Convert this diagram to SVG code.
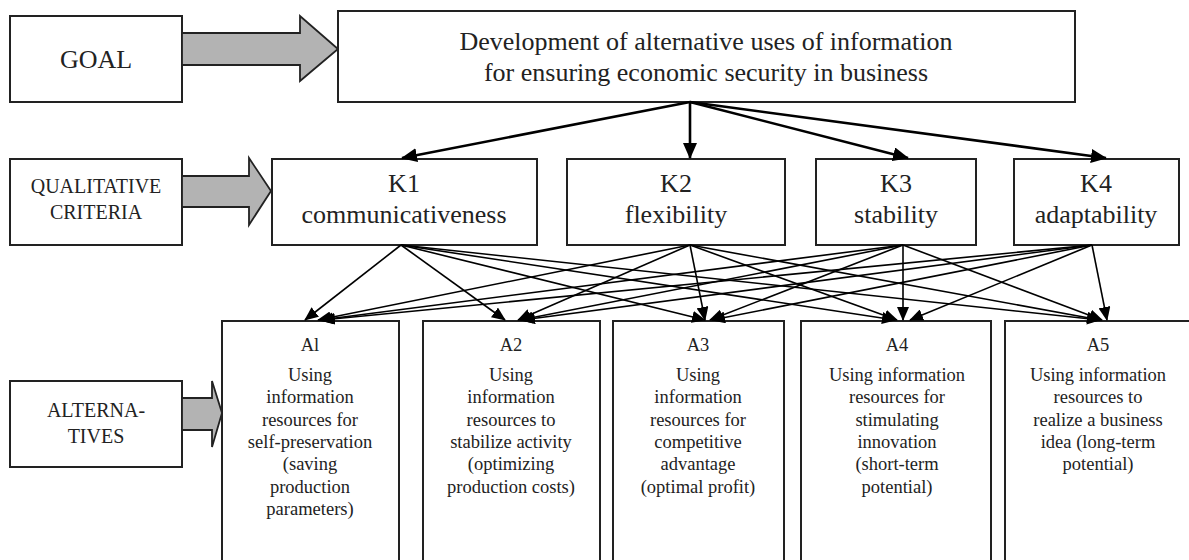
<svg xmlns="http://www.w3.org/2000/svg" width="1189" height="560" viewBox="0 0 1189 560">
<style>
.box{fill:#fff;stroke:#222;stroke-width:2}
.block{fill:#b3b3b3;stroke:#222;stroke-width:1.8;stroke-linejoin:miter}
.t{font-family:'Liberation Serif','Times New Roman',Times,'DejaVu Serif',serif;fill:#222;text-anchor:middle}
.lg{font-size:26px}
.md{font-size:20px}
.sm{font-size:18.5px}
.main{stroke:#000;stroke-width:2.6;fill:none;marker-end:url(#ah)}
.link{stroke:#000;stroke-width:1.6;fill:none;marker-end:url(#as)}
</style>
<defs>
<marker id="ah" markerUnits="userSpaceOnUse" markerWidth="16" markerHeight="14" refX="15" refY="7" orient="auto">
<path d="M0,0 L16,7 L0,14 z" fill="#000"/>
</marker>
<marker id="as" markerUnits="userSpaceOnUse" markerWidth="14" markerHeight="12" refX="13" refY="6" orient="auto">
<path d="M0,0 L14,6 L0,12 z" fill="#000"/>
</marker>
</defs>
<rect width="1189" height="560" fill="#fff"/>

<g font-family="Liberation Serif, Times New Roman, DejaVu Serif, serif">
<g id="goal">
<rect class="box" x="10" y="16" width="172" height="86"/>
<text class="t lg" x="96" y="68">GOAL</text>
</g>
<g id="goal-arrow">
<polygon class="block" points="182,33 300,33 300,16 338,49 300,81 300,65 182,65"/>
</g>
<g id="top">
<rect class="box" x="338" y="11" width="737" height="91"/>
<text class="t lg" x="706" y="50">Development of alternative uses of information</text>
<text class="t lg" x="706" y="81">for ensuring economic security in business</text>
</g>

<g id="criteria">
<rect class="box" x="10" y="159" width="172" height="86"/>
<text class="t md" x="96" y="193">QUALITATIVE</text>
<text class="t md" x="96" y="219">CRITERIA</text>
</g>
<g id="criteria-arrow">
<polygon class="block" points="182,176 249,176 249,158 271,191 249,225 249,207 182,207"/>
</g>
<g id="k1">
<rect class="box" x="272" y="159" width="265" height="86"/>
<text class="t lg" x="404" y="192">K1</text>
<text class="t lg" x="404" y="223">communicativeness</text>
</g>
<g id="k2">
<rect class="box" x="567" y="159" width="218" height="86"/>
<text class="t lg" x="676" y="192">K2</text>
<text class="t lg" x="676" y="223">flexibility</text>
</g>
<g id="k3">
<rect class="box" x="816" y="159" width="160" height="86"/>
<text class="t lg" x="896" y="192">K3</text>
<text class="t lg" x="896" y="223">stability</text>
</g>
<g id="k4">
<rect class="box" x="1014" y="159" width="165" height="86"/>
<text class="t lg" x="1096" y="192">K4</text>
<text class="t lg" x="1096" y="223">adaptability</text>
</g>

<g id="alternatives">
<rect class="box" x="10" y="381" width="172" height="86"/>
<text class="t md" x="96" y="417">ALTERNA-</text>
<text class="t md" x="96" y="443">TIVES</text>
</g>
<g id="alternatives-arrow">
<polygon class="block" points="182,398 212,398 212,381 222,413 212,447 212,430 182,430"/>
</g>

<g id="a1">
<rect class="box" x="222" y="321" width="177" height="250"/>
<text class="t sm" x="310" y="351">Al</text>
<text class="t sm" x="310" y="381">Using</text>
<text class="t sm" x="310" y="403">information</text>
<text class="t sm" x="310" y="426">resources for</text>
<text class="t sm" x="310" y="448">self-preservation</text>
<text class="t sm" x="310" y="470">(saving</text>
<text class="t sm" x="310" y="493">production</text>
<text class="t sm" x="310" y="515">parameters)</text>
</g>
<g id="a2">
<rect class="box" x="423" y="321" width="177" height="250"/>
<text class="t sm" x="511" y="351">A2</text>
<text class="t sm" x="511" y="381">Using</text>
<text class="t sm" x="511" y="403">information</text>
<text class="t sm" x="511" y="426">resources to</text>
<text class="t sm" x="511" y="448">stabilize activity</text>
<text class="t sm" x="511" y="470">(optimizing</text>
<text class="t sm" x="511" y="493">production costs)</text>
</g>
<g id="a3">
<rect class="box" x="613" y="321" width="171" height="250"/>
<text class="t sm" x="698" y="351">A3</text>
<text class="t sm" x="698" y="381">Using</text>
<text class="t sm" x="698" y="403">information</text>
<text class="t sm" x="698" y="426">resources for</text>
<text class="t sm" x="698" y="448">competitive</text>
<text class="t sm" x="698" y="470">advantage</text>
<text class="t sm" x="698" y="493">(optimal profit)</text>
</g>
<g id="a4">
<rect class="box" x="801" y="321" width="190" height="250"/>
<text class="t sm" x="897" y="351">A4</text>
<text class="t sm" x="897" y="381">Using information</text>
<text class="t sm" x="897" y="403">resources for</text>
<text class="t sm" x="897" y="426">stimulating</text>
<text class="t sm" x="897" y="448">innovation</text>
<text class="t sm" x="897" y="470">(short-term</text>
<text class="t sm" x="897" y="493">potential)</text>
</g>
<g id="a5">
<rect class="box" x="1005" y="321" width="195" height="250"/>
<text class="t sm" x="1098" y="351">A5</text>
<text class="t sm" x="1098" y="381">Using information</text>
<text class="t sm" x="1098" y="403">resources to</text>
<text class="t sm" x="1098" y="426">realize a business</text>
<text class="t sm" x="1098" y="448">idea (long-term</text>
<text class="t sm" x="1098" y="470">potential)</text>
</g>
</g>

<g id="connectors">
<line class="main" x1="690" y1="102" x2="402" y2="158"/>
<line class="main" x1="690" y1="102" x2="690" y2="158"/>
<line class="main" x1="690" y1="102" x2="908" y2="158"/>
<line class="main" x1="690" y1="102" x2="1106" y2="158"/>

<line class="link" x1="401" y1="245" x2="305" y2="320"/>
<line class="link" x1="401" y1="245" x2="505" y2="320"/>
<line class="link" x1="401" y1="245" x2="705" y2="320"/>
<line class="link" x1="401" y1="245" x2="895" y2="320"/>
<line class="link" x1="401" y1="245" x2="1100" y2="320"/>

<line class="link" x1="690" y1="245" x2="318" y2="320"/>
<line class="link" x1="690" y1="245" x2="518" y2="320"/>
<line class="link" x1="690" y1="245" x2="705" y2="320"/>
<line class="link" x1="690" y1="245" x2="897" y2="320"/>
<line class="link" x1="690" y1="245" x2="1100" y2="320"/>

<line class="link" x1="903" y1="245" x2="320" y2="320"/>
<line class="link" x1="903" y1="245" x2="520" y2="320"/>
<line class="link" x1="903" y1="245" x2="710" y2="320"/>
<line class="link" x1="903" y1="245" x2="903" y2="320"/>
<line class="link" x1="903" y1="245" x2="1102" y2="320"/>

<line class="link" x1="1092" y1="245" x2="322" y2="320"/>
<line class="link" x1="1092" y1="245" x2="522" y2="320"/>
<line class="link" x1="1092" y1="245" x2="712" y2="320"/>
<line class="link" x1="1092" y1="245" x2="910" y2="320"/>
<line class="link" x1="1092" y1="245" x2="1107" y2="320"/>
</g>
</svg>
